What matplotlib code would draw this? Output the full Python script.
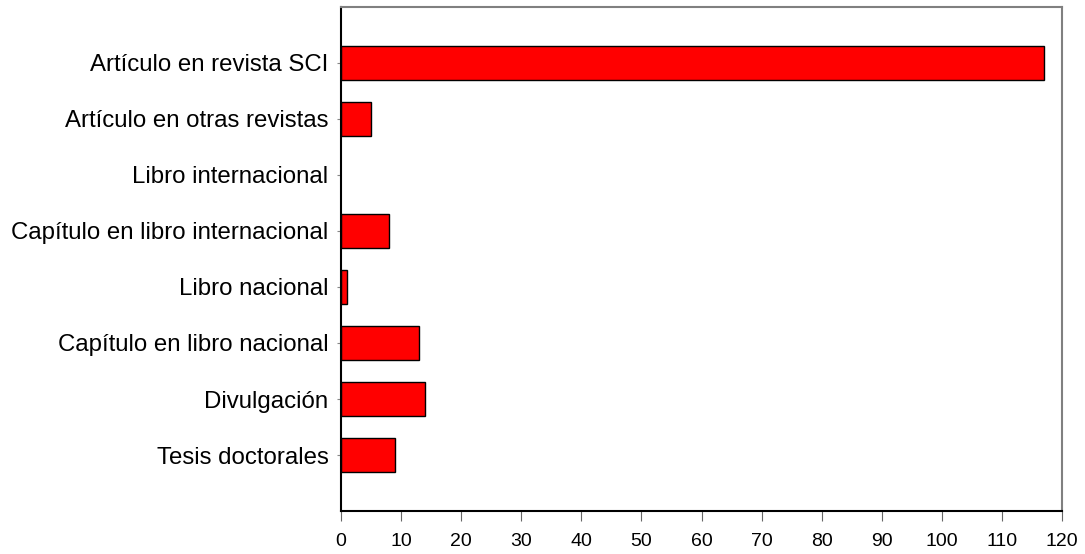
import matplotlib
matplotlib.use("Agg")
import matplotlib.pyplot as plt

categories = ["Artículo en revista SCI", "Artículo en otras revistas", "Libro internacional",
              "Capítulo en libro internacional", "Libro nacional", "Capítulo en libro nacional",
              "Divulgación", "Tesis doctorales"]
values = [117, 5, 0, 8, 1, 13, 14, 9]
xticks = list(range(0, 121, 10))

plt.rcParams['font.family'] = ['Liberation Sans', 'DejaVu Sans']
fig = plt.figure(figsize=(10.85, 5.54), dpi=100)
ax = fig.add_axes([0.3143, 0.0776, 0.9788 - 0.3143, 0.9874 - 0.0776])
pos = list(range(len(categories)))
bars = ax.barh(pos, values, height=0.6, color='#ff0000', edgecolor='black', linewidth=1)
for b, v in zip(bars, values):
    if v == 0:
        b.set_linewidth(0)
ax.set_ylim(len(categories), -1)
ax.set_xlim(0, 120)
ax.set_yticks(pos)
ax.set_yticklabels(categories, fontsize=17.3)
ax.set_xticks(xticks)
ax.set_xticklabels([str(t) for t in xticks], fontsize=14)
ax.tick_params(axis='y', length=3, color='#888888', pad=6)
ax.tick_params(axis='x', length=7, color='#666666', pad=9)
ax.spines['left'].set_color('black')
ax.spines['bottom'].set_color('black')
ax.spines['top'].set_color('#808080')
ax.spines['right'].set_color('#808080')
for s in ax.spines.values():
    s.set_linewidth(1.5)
fig.savefig("out.png", dpi=100)
